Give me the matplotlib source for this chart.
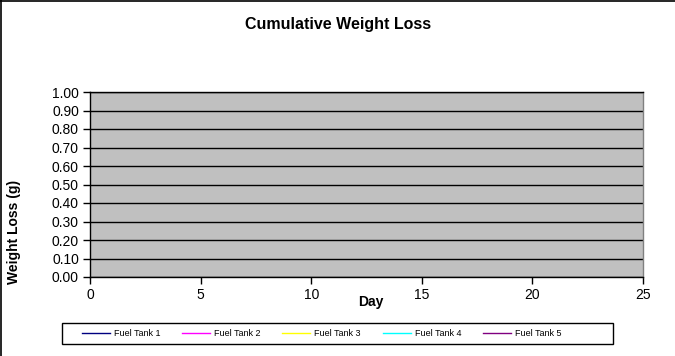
import matplotlib
matplotlib.use("Agg")
import matplotlib.pyplot as plt
from matplotlib.lines import Line2D
from matplotlib.patches import Rectangle

plt.rcParams['font.family'] = ['Liberation Sans', 'DejaVu Sans']

title = "Cumulative Weight Loss"
xlabel = "Day"
ylabel = "Weight Loss (g)"
series_names = ["Fuel Tank 1", "Fuel Tank 2", "Fuel Tank 3", "Fuel Tank 4", "Fuel Tank 5"]
series_colors = ["#000080", "#FF00FF", "#FFFF00", "#00FFFF", "#800080"]
days = []
tank1 = []
tank2 = []
tank3 = []
tank4 = []
tank5 = []
series_values = [tank1, tank2, tank3, tank4, tank5]
x_ticks = [0, 5, 10, 15, 20, 25]
y_ticks = [0.0, 0.1, 0.2, 0.3, 0.4, 0.5, 0.6, 0.7, 0.8, 0.9, 1.0]

fig = plt.figure(figsize=(6.75, 3.56), dpi=100)
W, H = 675, 356
ax = fig.add_axes([90 / W, 1 - 277 / H, (643 - 90) / W, (277 - 92) / H])
ax.set_facecolor("#C0C0C0")

for name, color, vals in zip(series_names, series_colors, series_values):
    ax.plot(days, vals, color=color, lw=1, label=name)

ax.set_xlim(0, 25)
ax.set_ylim(0, 1.0)
ax.set_xticks(x_ticks)
ax.set_xticklabels([str(t) for t in x_ticks])
ax.set_yticks(y_ticks)
ax.set_yticklabels([f"{t:.2f}" for t in y_ticks])
ax.grid(axis="y", color="black", lw=1)
ax.set_axisbelow(True)
ax.tick_params(axis="both", direction="out", length=5, width=1, color="black",
               labelsize=10, pad=3)
ax.spines["left"].set_color("black")
ax.spines["bottom"].set_color("black")
ax.spines["top"].set_color("black")
ax.spines["right"].set_color("#808080")
for s in ax.spines.values():
    s.set_linewidth(1)

fig.text(338 / W, 1 - 25 / H, title, ha="center", va="center", fontsize=11.5, fontweight="bold")
fig.text(371 / W, 1 - 302 / H, xlabel, ha="center", va="center", fontsize=10, fontweight="bold")
fig.text(14 / W, 1 - 232 / H, ylabel, ha="center", va="center", rotation=90,
         fontsize=10, fontweight="bold")

# legend box
fig.add_artist(Rectangle((62 / W, 1 - 344 / H), (613 - 62) / W, 21 / H, transform=fig.transFigure,
                         facecolor="white", edgecolor="black", lw=1, zorder=1))
leg = fig.legend(loc="center left", bbox_to_anchor=(82 / W, 1 - 333.5 / H),
                 ncol=5, fontsize=6.5, frameon=False, handlelength=3.1, handletextpad=0.45,
                 columnspacing=2.4, borderaxespad=0, borderpad=0)
leg.set_zorder(2)

fig.add_artist(Line2D([0.5 / W, 0.5 / W], [0, 1], color="black", lw=1.2, transform=fig.transFigure))
fig.add_artist(Line2D([0, 1], [1 - 0.5 / H, 1 - 0.5 / H], color="black", lw=1.2, transform=fig.transFigure))

fig.savefig("out.png", dpi=100, facecolor="white")
